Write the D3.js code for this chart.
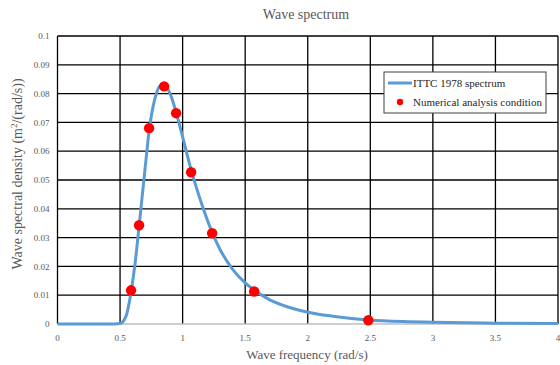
<!DOCTYPE html>
<html>
<head>
<meta charset="utf-8">
<script src="https://cdn.jsdelivr.net/npm/d3@7"></script>
<style>
  body { margin: 0; background: #fff; }
</style>
</head>
<body>
<script>
// ITTC 1978 spectrum
const freq = [0, 0.4, 0.5, 0.55, 0.588, 0.62, 0.652, 0.7, 0.732, 0.78, 0.82, 0.85, 0.9, 0.948, 1.0,
  1.068, 1.15, 1.236, 1.3, 1.4, 1.5, 1.572, 1.7, 1.8, 2.0, 2.2, 2.484, 2.8, 3.0, 3.5, 4.0];
const density = [0, 0, 0.0002, 0.003, 0.0112, 0.021, 0.034, 0.054, 0.067, 0.0785, 0.0827, 0.083, 0.080, 0.0735, 0.065,
  0.0535, 0.042, 0.0318, 0.0258, 0.019, 0.0143, 0.0118, 0.0083, 0.0065, 0.0041, 0.0027, 0.0014, 0.0008, 0.0006, 0.0003, 0.0002];

// numerical analysis conditions (red dots)
const condFreq = [0.588, 0.652, 0.732, 0.852, 0.948, 1.068, 1.236, 1.572, 2.484];
const condDensity = [0.0117, 0.0343, 0.068, 0.0825, 0.0732, 0.0527, 0.0315, 0.0113, 0.0013];

const xTicks = [0, 0.5, 1, 1.5, 2, 2.5, 3, 3.5, 4];
const yTicks = [0, 0.01, 0.02, 0.03, 0.04, 0.05, 0.06, 0.07, 0.08, 0.09, 0.1];

const width = 560, height = 365;
const margin = {top: 36, right: 2, bottom: 41, left: 57.5};

const svg = d3.select("body").append("svg")
    .attr("width", width)
    .attr("height", height)
    .attr("font-family", "'Liberation Serif', 'Times New Roman', serif");

const x = d3.scaleLinear()
    .domain([0, 4])
    .range([margin.left, width - margin.right]);

const y = d3.scaleLinear()
    .domain([0, 0.1])
    .range([height - margin.bottom, margin.top]);

// grid
svg.append("g")
  .selectAll("line")
  .data(yTicks.slice(1))
  .join("line")
    .attr("x1", x(0))
    .attr("x2", x(4))
    .attr("y1", d => y(d))
    .attr("y2", d => y(d))
    .attr("stroke", "#000")
    .attr("stroke-width", 1.3);

svg.append("g")
  .selectAll("line")
  .data(xTicks)
  .join("line")
    .attr("x1", d => x(d))
    .attr("x2", d => x(d))
    .attr("y1", y(0))
    .attr("y2", y(0.1))
    .attr("stroke", "#000")
    .attr("stroke-width", 1.3);

// bottom axis line
svg.append("line")
    .attr("x1", x(0))
    .attr("x2", x(4))
    .attr("y1", y(0))
    .attr("y2", y(0))
    .attr("stroke", "#bfbfbf")
    .attr("stroke-width", 1.3);

// tick labels
svg.append("g")
    .attr("font-size", 9)
    .attr("fill", "#595959")
    .attr("text-anchor", "end")
  .selectAll("text")
  .data(yTicks)
  .join("text")
    .attr("x", x(0) - 8)
    .attr("y", d => y(d))
    .attr("dy", "0.35em")
    .text(d => d);

svg.append("g")
    .attr("font-size", 9)
    .attr("fill", "#595959")
    .attr("text-anchor", "middle")
  .selectAll("text")
  .data(xTicks)
  .join("text")
    .attr("x", d => x(d))
    .attr("y", y(0) + 17)
    .text(d => d);

// spectrum curve
const line = d3.line()
    .x((d, i) => x(freq[i]))
    .y(d => y(d))
    .curve(d3.curveMonotoneX);

svg.append("path")
    .datum(density)
    .attr("fill", "none")
    .attr("stroke", "#5b9bd5")
    .attr("stroke-width", 3)
    .attr("stroke-linejoin", "round")
    .attr("d", line);

// condition points
svg.append("g")
  .selectAll("circle")
  .data(condDensity)
  .join("circle")
    .attr("cx", (d, i) => x(condFreq[i]))
    .attr("cy", d => y(d))
    .attr("r", 5.2)
    .attr("fill", "#ff0000");

// titles
svg.append("text")
    .attr("x", 306)
    .attr("y", 19)
    .attr("text-anchor", "middle")
    .attr("font-size", 14)
    .attr("fill", "#595959")
    .text("Wave spectrum");

svg.append("text")
    .attr("x", 307)
    .attr("y", 359)
    .attr("text-anchor", "middle")
    .attr("font-size", 13)
    .attr("fill", "#595959")
    .text("Wave frequency (rad/s)");

const yl = svg.append("text")
    .attr("transform", "translate(22,174) rotate(-90)")
    .attr("text-anchor", "middle")
    .attr("font-size", 14)
    .attr("fill", "#595959");
yl.append("tspan").text("Wave spectral density (m");
yl.append("tspan").attr("font-size", 9).attr("dy", -5).text("2");
yl.append("tspan").attr("dy", 5).text("/(rad/s))");

// legend
const legend = svg.append("g")
    .attr("transform", "translate(384,72)");

legend.append("rect")
    .attr("width", 162)
    .attr("height", 41)
    .attr("fill", "#fff")
    .attr("stroke", "#404040")
    .attr("stroke-width", 1);

legend.append("line")
    .attr("x1", 4)
    .attr("x2", 28)
    .attr("y1", 11)
    .attr("y2", 11)
    .attr("stroke", "#5b9bd5")
    .attr("stroke-width", 3);

legend.append("circle")
    .attr("cx", 16)
    .attr("cy", 30)
    .attr("r", 3.2)
    .attr("fill", "#ff0000");

legend.append("g")
    .attr("font-size", 11)
    .attr("fill", "#262626")
  .selectAll("text")
  .data(["ITTC 1978 spectrum", "Numerical analysis condition"])
  .join("text")
    .attr("x", 29)
    .attr("y", (d, i) => 15 + i * 19)
    .text(d => d);
</script>
</body>
</html>
